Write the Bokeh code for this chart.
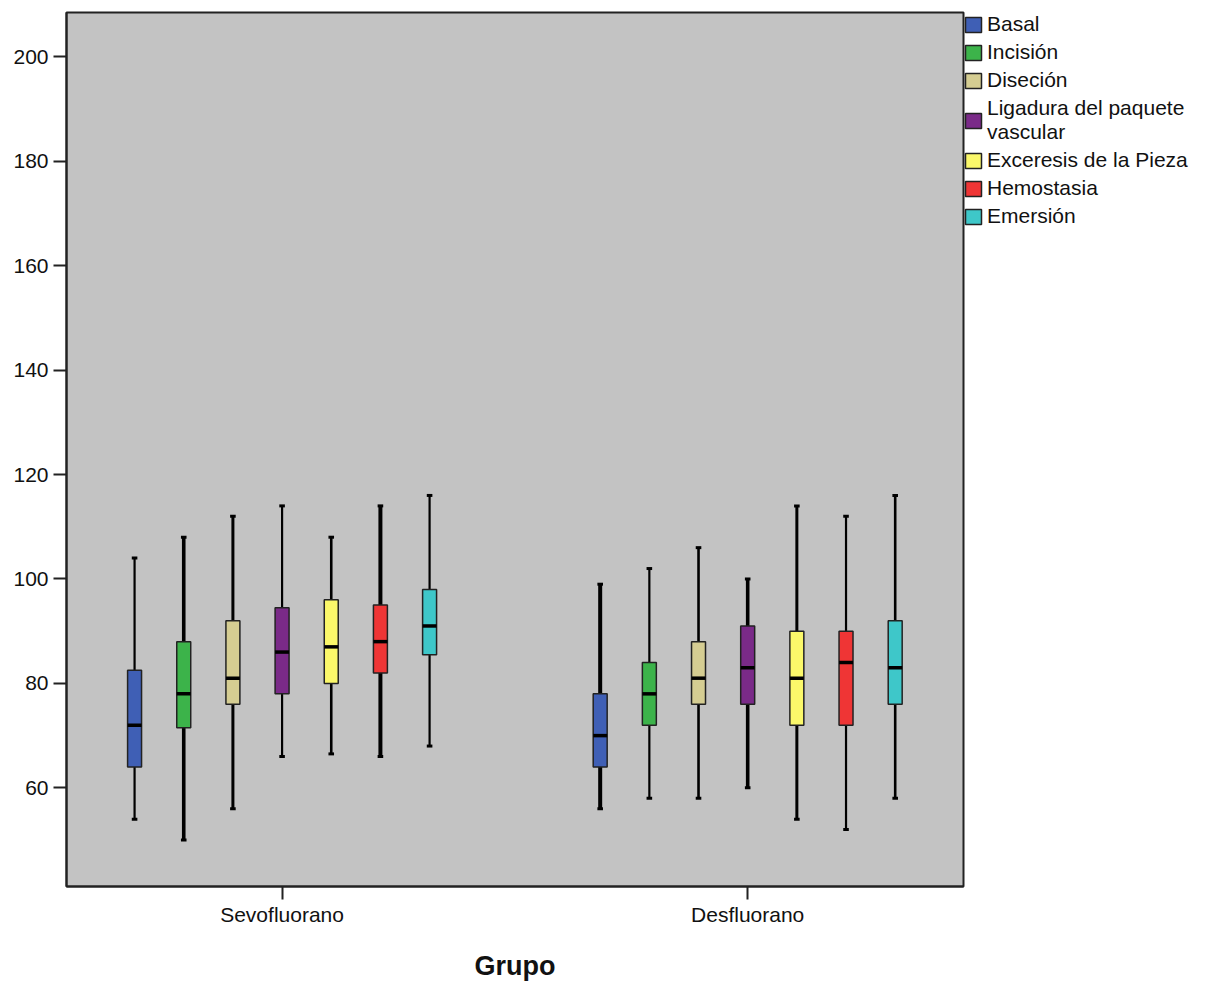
from bokeh.plotting import figure
from bokeh.models import Range1d, FixedTicker, ColumnDataSource, Legend, LegendItem
from bokeh.embed import file_html
from bokeh.resources import INLINE

# ---------------- data ----------------
groups = ["Sevofluorano", "Desfluorano"]
stages = ["Basal", "Incisión", "Diseción", "Ligadura del paquete vascular",
          "Exceresis de la Pieza", "Hemostasia", "Emersión"]
legend_labels = ["Basal", "Incisión", "Diseción", "Ligadura del paquete\nvascular",
                 "Exceresis de la Pieza", "Hemostasia", "Emersión"]
y_ticks = [60, 80, 100, 120, 140, 160, 180, 200]

sevo_min = [54, 50, 56, 66, 66.5, 66, 68]
sevo_q1 = [64, 71.5, 76, 78, 80, 82, 85.5]
sevo_med = [72, 78, 81, 86, 87, 88, 91]
sevo_q3 = [82.5, 88, 92, 94.5, 96, 95, 98]
sevo_max = [104, 108, 112, 114, 108, 114, 116]

desf_min = [56, 58, 58, 60, 54, 52, 58]
desf_q1 = [64, 72, 76, 76, 72, 72, 76]
desf_med = [70, 78, 81, 83, 81, 84, 83]
desf_q3 = [78, 84, 88, 91, 90, 90, 92]
desf_max = [99, 102, 106, 100, 114, 112, 116]

# ---------------- styles ----------------
colors = ["#3f5fb5", "#3cb34a", "#d5cd92", "#7a2a88", "#fbf86a", "#ef3535", "#3ec7c9"]
# whisker stroke widths per group (as rendered in the original picture)
whisker_w = [[2.2, 3.6, 3.0, 2.2, 2.6, 4.0, 2.2],
             [4.0, 2.2, 2.6, 3.6, 3.0, 2.2, 2.6]]
FONT = "Liberation Sans"

# ---------------- main figure ----------------
p = figure(frame_width=897, frame_height=874,
           x_range=Range1d(0.537, 2.4635), y_range=Range1d(41.1, 208.5),
           output_backend="svg", toolbar_location=None,
           min_border_left=66, min_border_top=12, min_border_right=0, min_border_bottom=0,
           background_fill_color="#c3c3c3", border_fill_color="white")
p.grid.visible = False
p.outline_line_color = "#222222"
p.outline_line_width = 2

step = 0.1056
box_w = 0.030
cap_w = 0.012
series = [(sevo_min, sevo_q1, sevo_med, sevo_q3, sevo_max),
          (desf_min, desf_q1, desf_med, desf_q3, desf_max)]

items = []
for si, stage in enumerate(stages):
    xs = [gi + 1 + (si - 3) * step for gi in range(len(groups))]
    d = dict(
        x=xs,
        lo=[s[0][si] for s in series],
        q1=[s[1][si] for s in series],
        med=[s[2][si] for s in series],
        q3=[s[3][si] for s in series],
        hi=[s[4][si] for s in series],
        xl=[x - box_w / 2 for x in xs], xr=[x + box_w / 2 for x in xs],
        cl=[x - cap_w / 2 for x in xs], cr=[x + cap_w / 2 for x in xs],
        ww=[whisker_w[gi][si] for gi in range(len(groups))],
    )
    src = ColumnDataSource(d)
    p.segment(x0="x", y0="q3", x1="x", y1="hi", source=src, line_color="black", line_width="ww")
    p.segment(x0="x", y0="lo", x1="x", y1="q1", source=src, line_color="black", line_width="ww")
    p.segment(x0="cl", y0="hi", x1="cr", y1="hi", source=src, line_color="black", line_width=3)
    p.segment(x0="cl", y0="lo", x1="cr", y1="lo", source=src, line_color="black", line_width=3)
    r = p.vbar(x="x", width=box_w, top="q3", bottom="q1", source=src,
               fill_color=colors[si], line_color="#222222", line_width=1.5)
    p.segment(x0="xl", y0="med", x1="xr", y1="med", source=src, line_color="black", line_width=3.5)
    items.append(LegendItem(label=legend_labels[si], renderers=[r]))

p.yaxis.ticker = FixedTicker(ticks=y_ticks)
p.xaxis.ticker = FixedTicker(ticks=[1, 2])
p.xaxis.major_label_overrides = {1: groups[0], 2: groups[1]}
for ax in (p.xaxis[0], p.yaxis[0]):
    ax.major_tick_out = 13
    ax.major_tick_in = 0
    ax.minor_tick_line_color = None
    ax.major_tick_line_width = 2
    ax.major_tick_line_color = "#222222"
    ax.axis_line_width = 2
    ax.axis_line_color = "#222222"
    ax.major_label_text_font = FONT
    ax.major_label_text_font_size = "21px"
    ax.major_label_text_color = "#111111"
p.yaxis.major_label_standoff = 5
p.xaxis.major_label_standoff = 3
p.xaxis.axis_label = "Grupo"
p.xaxis.axis_label_text_font = FONT
p.xaxis.axis_label_text_font_style = "bold"
p.xaxis.axis_label_text_font_size = "27px"
p.xaxis.axis_label_text_color = "#111111"
p.xaxis.axis_label_standoff = 22

legend = Legend(items=items, location="top_left", orientation="vertical")
legend.glyph_width = 20
legend.glyph_height = 19
legend.label_text_font = FONT
legend.label_text_font_size = "21px"
legend.label_text_color = "#111111"
legend.label_text_line_height = 1.1
legend.label_standoff = 4
legend.label_height = 23
legend.spacing = 4
legend.padding = 3
legend.margin = 0
legend.border_line_color = None
legend.background_fill_alpha = 0
p.add_layout(legend, "right")

open("out.html", "w").write(file_html(p, INLINE))
